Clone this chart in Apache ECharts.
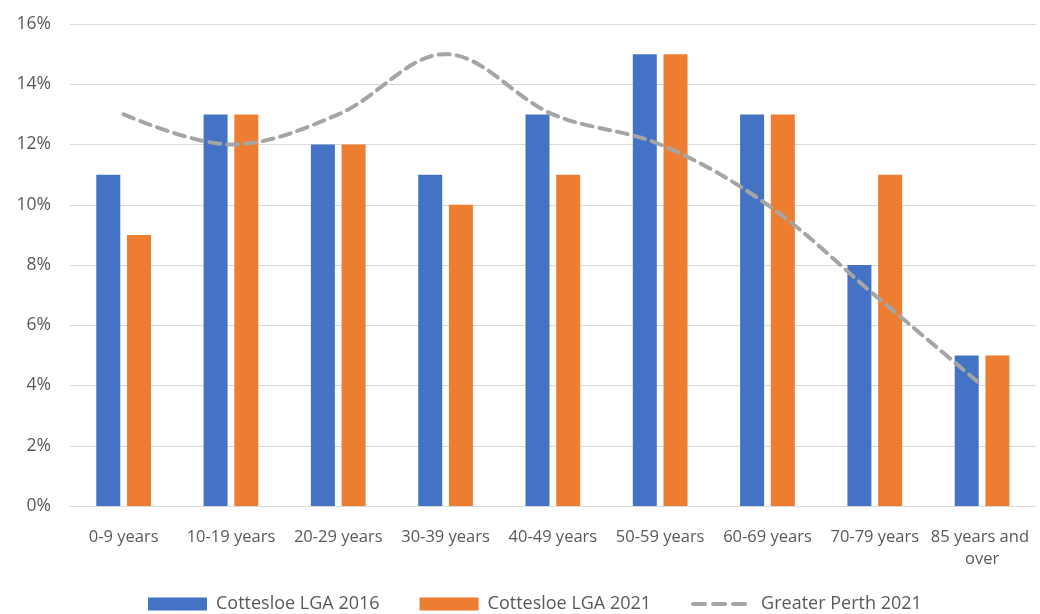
<!DOCTYPE html>
<html><head><meta charset="utf-8">
<script src="https://cdn.jsdelivr.net/npm/echarts@6/dist/echarts.min.js"></script>
<style>html,body{margin:0;padding:0;background:#fff}#c{width:1040px;height:614px}</style>
</head><body><div id="c"></div>
<script>
const categories = ['0-9 years','10-19 years','20-29 years','30-39 years','40-49 years','50-59 years','60-69 years','70-79 years','85 years and over'];
const cottesloe2016 = [11, 13, 12, 11, 13, 15, 13, 8, 5];
const cottesloe2021 = [9, 13, 12, 10, 11, 15, 13, 11, 5];
const perth2021 = [13, 12, 13, 15, 13, 12, 10, 7, 4];
const yTicks = [0, 2, 4, 6, 8, 10, 12, 14, 16];

const font = 'Open Sans, Noto Sans, sans-serif';
const chart = echarts.init(document.getElementById('c'), null, {renderer:'canvas'});
chart.setOption({
  animation: false,
  textStyle: {fontFamily: font},
  grid: {left: 70, right: 3, top: 24, bottom: 108, containLabel: false},
  legend: {
    top: 595, left: 148, padding: 0, itemGap: 40, itemWidth: 59, itemHeight: 13,
    textStyle: {color: '#595959', fontSize: 18, fontFamily: font, padding: [0, 0, 0, 4]},
    data: [
      {name: 'Cottesloe LGA 2016', icon: 'rect'},
      {name: 'Cottesloe LGA 2021', icon: 'rect'},
      {name: 'Greater Perth 2021', itemStyle: {opacity: 0},
       lineStyle: {color: '#A5A5A5', width: 4, type: [12, 8], cap: 'round'}}
    ]
  },
  xAxis: {
    type: 'category', data: categories,
    axisLine: {lineStyle: {color: '#d9d9d9', width: 1}},
    axisTick: {show: false},
    axisLabel: {color: '#595959', fontSize: 16.5, margin: 20, interval: 0, width: 110, overflow: 'break', lineHeight: 22}
  },
  yAxis: {
    type: 'value', min: yTicks[0], max: yTicks[yTicks.length-1], interval: 2,
    axisLabel: {color: '#595959', fontSize: 17.5, formatter: '{value}%', margin: 19},
    splitLine: {lineStyle: {color: '#d9d9d9', width: 1}},
    axisLine: {show: false}, axisTick: {show: false}
  },
  series: [
    {name: 'Cottesloe LGA 2016', type: 'bar', data: cottesloe2016, barWidth: 24, barGap: '28%',
     itemStyle: {color: '#4472C4'}},
    {name: 'Cottesloe LGA 2021', type: 'bar', data: cottesloe2021, barWidth: 24, barGap: '28%',
     itemStyle: {color: '#ED7D31'}},
    {name: 'Greater Perth 2021', type: 'line', data: perth2021, smooth: 0.35, symbol: 'none', z: 5,
     lineStyle: {color: '#A5A5A5', width: 4, type: [11, 7], cap: 'round'},
     itemStyle: {color: '#A5A5A5'}}
  ]
});
</script></body></html>
